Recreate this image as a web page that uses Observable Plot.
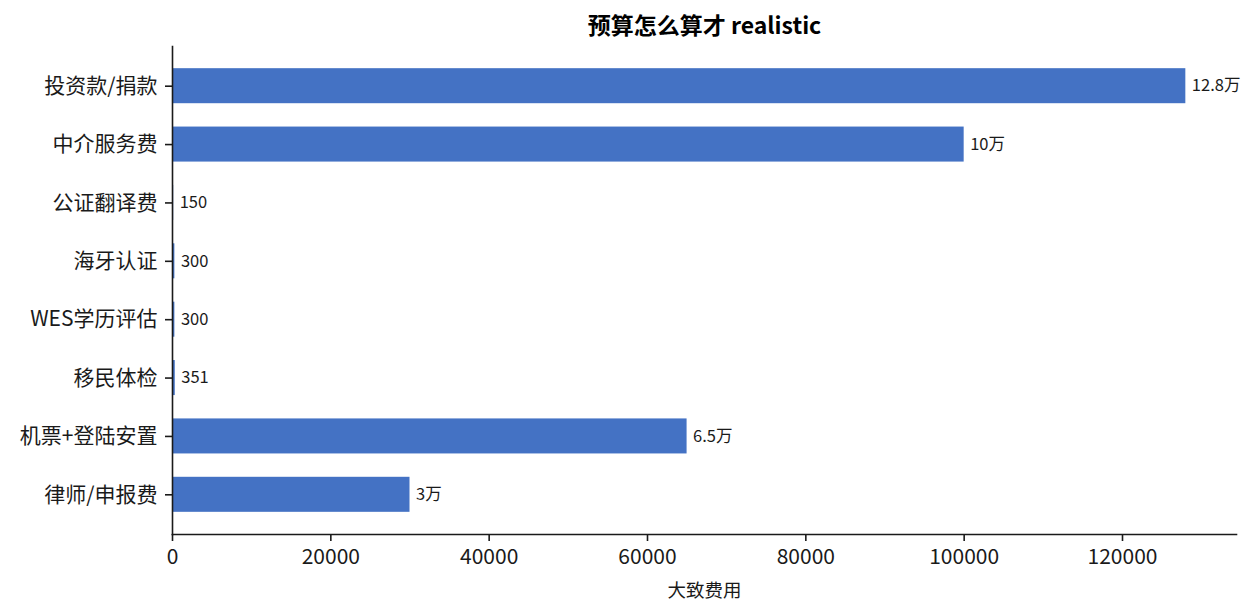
<!DOCTYPE html>
<html>
<head>
<meta charset="utf-8">
<script src="https://cdn.jsdelivr.net/npm/d3@7"></script>
<script src="https://cdn.jsdelivr.net/npm/@observablehq/plot@0.6"></script>
<style>
  body { margin: 0; background: #fff; }
  #chart svg { display: block; }
</style>
</head>
<body>
<div id="chart"></div>
<script>
const categories = ["投资款/捐款", "中介服务费", "公证翻译费", "海牙认证", "WES学历评估", "移民体检", "机票+登陆安置", "律师/申报费"];
const values = [128000, 100000, 150, 300, 300, 351, 65000, 30000];
const valueLabels = ["12.8万", "10万", "150", "300", "300", "351", "6.5万", "3万"];
const xTicks = [0, 20000, 40000, 60000, 80000, 100000, 120000];
const title = "预算怎么算才 realistic";
const xLabel = "大致费用";

const data = categories.map((c, i) => ({cat: c, value: values[i], label: valueLabels[i]}));
const font = "'Noto Sans CJK SC', 'Noto Sans', sans-serif";
const ink = "#1a1a1a";

const chart = Plot.plot({
  width: 1256,
  height: 615,
  marginTop: 46,
  marginBottom: 81,
  marginLeft: 172,
  marginRight: 20,
  style: {fontFamily: font, color: ink, background: "#fff"},
  x: {domain: [0, 134400]},
  y: {domain: categories, paddingInner: 0.4, paddingOuter: 0.38, round: false},
  marks: [
    Plot.barX(data, {x1: 0, x2: "value", y: "cat", fill: "#4472C4", insetLeft: 0, insetRight: 0}),
    Plot.text(data, {x: "value", y: "cat", text: "label", textAnchor: "start", dx: 6, fontSize: 16.5, fill: ink}),
    Plot.axisX({ticks: xTicks, tickFormat: "d", tickSize: 7, tickPadding: 8, fontSize: 21, stroke: ink, strokeWidth: 1.6,
      label: xLabel, labelAnchor: "center", labelArrow: "none", labelOffset: 62}),
    Plot.axisY({tickSize: 7, tickPadding: 8, fontSize: 21, stroke: ink, strokeWidth: 1.6, label: null}),
    Plot.frame({anchor: "left", stroke: ink, strokeWidth: 1.6}),
    Plot.frame({anchor: "bottom", stroke: ink, strokeWidth: 1.6}),
    Plot.text([title], {frameAnchor: "top", dy: -20, fontSize: 23, fontWeight: "bold", fill: "#000", lineAnchor: "middle"})
  ]
});
document.getElementById("chart").appendChild(chart);
d3.select(chart).selectAll("[aria-label='x-axis label'] text").attr("font-size", 18.5);
</script>
</body>
</html>
